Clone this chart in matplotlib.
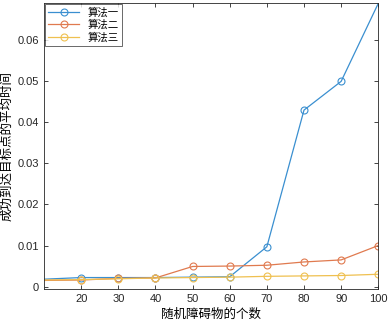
import matplotlib
matplotlib.use('Agg')
import matplotlib.pyplot as plt

plt.rcParams['font.family'] = ['Noto Sans CJK SC', 'DejaVu Sans']

# 数据
obstacles = [10, 20, 30, 40, 50, 60, 70, 80, 90, 100]
alg1 = [0.0018, 0.0022, 0.0022, 0.0022, 0.0023, 0.0024, 0.0097, 0.043, 0.050, 0.069]
alg2 = [0.0015, 0.0016, 0.0020, 0.0021, 0.0049, 0.0050, 0.0052, 0.0060, 0.0065, 0.0100]
alg3 = [0.0016, 0.0017, 0.0019, 0.0021, 0.0022, 0.0023, 0.0025, 0.0026, 0.0027, 0.0030]
labels = ['算法一', '算法二', '算法三']
xticks = [20, 30, 40, 50, 60, 70, 80, 90, 100]
yticks = [0, 0.01, 0.02, 0.03, 0.04, 0.05, 0.06]

fig = plt.figure(figsize=(3.91, 3.28), dpi=100)
ax = fig.add_axes([0.1125, 0.12, 0.855, 0.871])

colors = ['#3a8fd0', '#e07a4f', '#efc050']
marks = [range(1, 9), range(1, 10), range(1, 10)]  # 算法一 最后一点在顶边，无标记
for ys, lab, c, mk in zip([alg1, alg2, alg3], labels, colors, marks):
    ax.plot(obstacles, ys, color=c, linewidth=0.9, marker='o', markersize=5,
            markerfacecolor='none', markeredgewidth=0.8, markevery=mk,
            label=lab)

ax.set_xlim(10, 100)
ax.set_ylim(-0.0005, 0.0691)
ax.set_xticks(xticks)
ax.set_yticks(yticks)
ax.set_yticklabels(['0', '0.01', '0.02', '0.03', '0.04', '0.05', '0.06'])
ax.tick_params(direction='in', top=True, right=True, labelsize=8, colors='#262626',
               length=3, width=0.6)
for t in ax.get_xticklabels() + ax.get_yticklabels():
    t.set_family('Liberation Sans')
for s in ax.spines.values():
    s.set_color('#262626')
    s.set_linewidth(0.6)

ax.set_xlabel('随机障碍物的个数', fontsize=9, labelpad=3)
ax.set_ylabel('成功到达目标点的平均时间', fontsize=9, labelpad=3)

leg = ax.legend(loc='upper left', fontsize=7.5, frameon=True, fancybox=False,
                borderaxespad=0.1, handlelength=3, borderpad=0.3, labelspacing=0.2,
                edgecolor='#262626')
leg.get_frame().set_linewidth(0.6)

fig.savefig('out.png', dpi=100)
